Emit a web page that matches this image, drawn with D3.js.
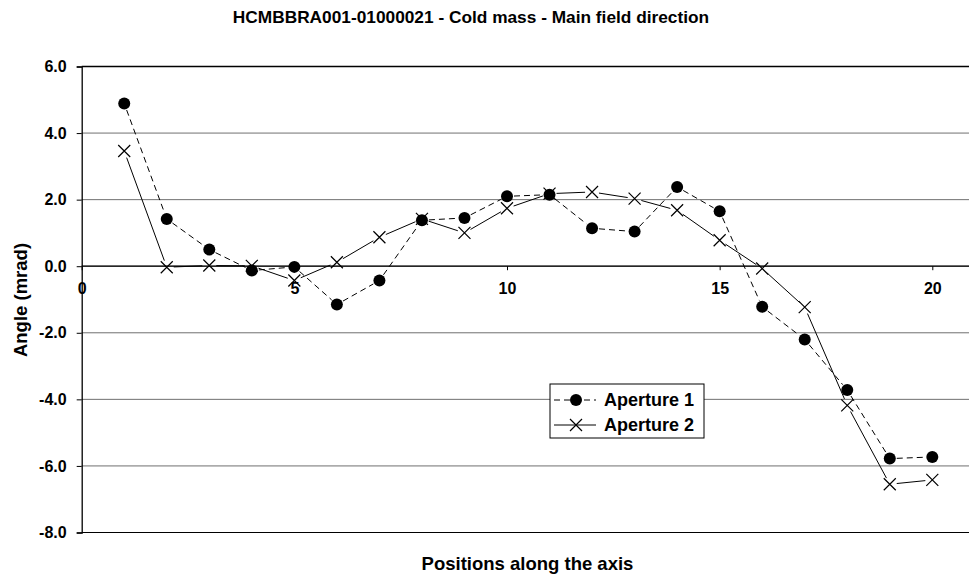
<!DOCTYPE html>
<html>
<head>
<meta charset="utf-8">
<script src="https://cdn.jsdelivr.net/npm/d3@7"></script>
<style>
  body { margin: 0; background: #fff; }
  text { font-family: "Liberation Sans", Arial, sans-serif; font-weight: bold; fill: #000; }
</style>
</head>
<body>
<div id="chart"></div>
<script>
var positions = [1, 2, 3, 4, 5, 6, 7, 8, 9, 10, 11, 12, 13, 14, 15, 16, 17, 18, 19, 20];
var aperture1 = [4.89, 1.42, 0.50, -0.13, -0.02, -1.15, -0.43, 1.38, 1.45, 2.10, 2.15, 1.14, 1.04, 2.38, 1.65, -1.22, -2.20, -3.72, -5.78, -5.73];
var aperture2 = [3.46, -0.03, 0.02, 0.01, -0.43, 0.12, 0.87, 1.42, 1.00, 1.74, 2.18, 2.23, 2.03, 1.68, 0.78, -0.07, -1.23, -4.18, -6.55, -6.42];
var yTicks = [-8, -6, -4, -2, 0, 2, 4, 6];
var xTicks = [0, 5, 10, 15, 20];
var seriesNames = ["Aperture 1", "Aperture 2"];

var W = 969, H = 578;
var margin = { top: 66.5, left: 81.7, bottom: 532.5 };

var svg = d3.select("#chart")
    .append("svg")
    .attr("width", W)
    .attr("height", H);

var x = d3.scaleLinear()
    .domain([0, 20])
    .range([margin.left, 932.3]);

var y = d3.scaleLinear()
    .domain([-8, 6])
    .range([margin.bottom, margin.top]);

// gridlines
svg.append("g")
    .selectAll("line")
    .data(yTicks.filter(function (d) { return d !== -8 && d !== 6; }))
    .enter().append("line")
    .attr("x1", margin.left)
    .attr("x2", W)
    .attr("y1", function (d) { return y(d); })
    .attr("y2", function (d) { return y(d); })
    .attr("stroke", "#707070")
    .attr("stroke-width", 1);

// top and bottom frame
svg.append("line")
    .attr("x1", margin.left).attr("x2", W)
    .attr("y1", y(6)).attr("y2", y(6))
    .attr("stroke", "#000").attr("stroke-width", 1.5);
svg.append("line")
    .attr("x1", margin.left).attr("x2", W)
    .attr("y1", y(-8)).attr("y2", y(-8))
    .attr("stroke", "#000").attr("stroke-width", 1.2);

// y axis
var yAxis = svg.append("g")
    .attr("transform", "translate(" + margin.left + ",0)")
    .call(d3.axisLeft(y).tickValues(yTicks).tickSize(5).tickPadding(10)
        .tickFormat(function (d) { return d.toFixed(1); }));
yAxis.select(".domain").attr("stroke", "#000").attr("stroke-width", 1.3);
yAxis.selectAll("text").style("font-size", "16px");

// x axis on zero line
var xAxis = svg.append("g")
    .attr("transform", "translate(0," + y(0) + ")")
    .call(d3.axisBottom(x).tickValues(xTicks).tickSize(4).tickPadding(12)
        .tickFormat(d3.format("d")));
xAxis.select(".domain").remove();
xAxis.append("line")
    .attr("x1", margin.left).attr("x2", W)
    .attr("stroke", "#000").attr("stroke-width", 1.3);
xAxis.selectAll("text").style("font-size", "16px");

// segments shortened so the lines stop short of the markers
function segments(values) {
    var segs = [];
    for (var i = 0; i < values.length - 1; i++) {
        var x1 = x(positions[i]), y1 = y(values[i]);
        var x2 = x(positions[i + 1]), y2 = y(values[i + 1]);
        var len = Math.hypot(x2 - x1, y2 - y1), g = 7;
        if (len <= 2 * g) continue;
        var ux = (x2 - x1) / len, uy = (y2 - y1) / len;
        segs.push([x1 + ux * g, y1 + uy * g, x2 - ux * g, y2 - uy * g]);
    }
    return segs;
}

svg.append("g").selectAll("line")
    .data(segments(aperture1))
    .enter().append("line")
    .attr("x1", function (d) { return d[0]; })
    .attr("y1", function (d) { return d[1]; })
    .attr("x2", function (d) { return d[2]; })
    .attr("y2", function (d) { return d[3]; })
    .attr("stroke", "#000")
    .attr("stroke-width", 1)
    .attr("stroke-dasharray", "6,4");

svg.append("g").selectAll("line")
    .data(segments(aperture2))
    .enter().append("line")
    .attr("x1", function (d) { return d[0]; })
    .attr("y1", function (d) { return d[1]; })
    .attr("x2", function (d) { return d[2]; })
    .attr("y2", function (d) { return d[3]; })
    .attr("stroke", "#000")
    .attr("stroke-width", 1);

// markers
svg.append("g").selectAll("circle")
    .data(aperture1)
    .enter().append("circle")
    .attr("cx", function (d, i) { return x(positions[i]); })
    .attr("cy", function (d) { return y(d); })
    .attr("r", 6)
    .attr("fill", "#000");

var cross = "M-6,-6L6,6M-6,6L6,-6";
svg.append("g").selectAll("path")
    .data(aperture2)
    .enter().append("path")
    .attr("transform", function (d, i) { return "translate(" + x(positions[i]) + "," + y(d) + ")"; })
    .attr("d", cross)
    .attr("stroke", "#000")
    .attr("stroke-width", 1.2)
    .attr("fill", "none");

// legend
var legend = svg.append("g").attr("transform", "translate(550,384)");
legend.append("rect")
    .attr("width", 154).attr("height", 54)
    .attr("fill", "#fff").attr("stroke", "#000").attr("stroke-width", 1);

var rows = legend.selectAll("g.row")
    .data(seriesNames)
    .enter().append("g")
    .attr("class", "row")
    .attr("transform", function (d, i) { return "translate(0," + (16 + i * 25) + ")"; });

rows.append("line")
    .attr("x1", 4).attr("x2", 46)
    .attr("stroke", "#000").attr("stroke-width", 1)
    .attr("stroke-dasharray", function (d, i) { return i === 0 ? "6,4" : null; });
rows.filter(function (d, i) { return i === 0; })
    .append("circle").attr("cx", 26).attr("r", 6).attr("fill", "#000");
rows.filter(function (d, i) { return i === 1; })
    .append("path").attr("transform", "translate(26,0)").attr("d", cross)
    .attr("stroke", "#000").attr("stroke-width", 1.2).attr("fill", "#fff");
rows.append("text")
    .attr("x", 54).attr("dy", "0.36em")
    .style("font-size", "18px")
    .text(function (d) { return d; });

// titles
svg.append("text")
    .attr("x", 471).attr("y", 23)
    .attr("text-anchor", "middle")
    .style("font-size", "17.3px")
    .text("HCMBBRA001-01000021 - Cold mass - Main field direction");

svg.append("text")
    .attr("x", 527.5).attr("y", 570)
    .attr("text-anchor", "middle")
    .style("font-size", "18.5px")
    .text("Positions along the axis");

svg.append("text")
    .attr("transform", "translate(27,300) rotate(-90)")
    .attr("text-anchor", "middle")
    .style("font-size", "18.5px")
    .text("Angle (mrad)");
</script>
</body>
</html>
